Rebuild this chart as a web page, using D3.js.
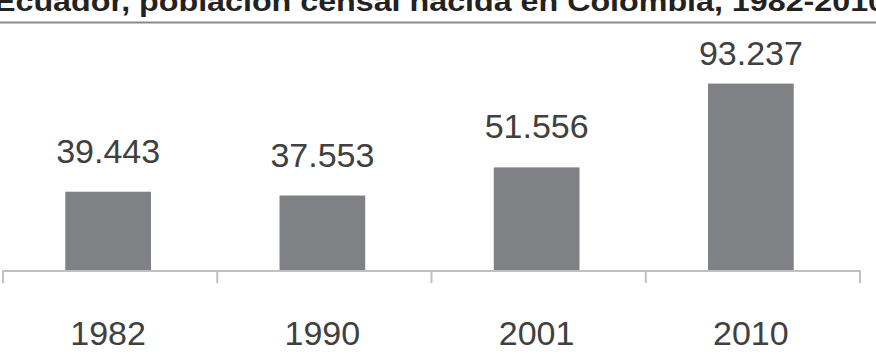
<!DOCTYPE html>
<html>
<head>
<meta charset="utf-8">
<script src="https://cdn.jsdelivr.net/npm/d3@7"></script>
<style>
  html, body { margin: 0; padding: 0; background: #fff; }
  #plot { width: 876px; height: 357px; }
</style>
</head>
<body>
<div id="plot"></div>
<script>
// Data
var years = ["1982", "1990", "2001", "2010"];
var population = [39443, 37553, 51556, 93237];
var titleText = "Ecuador, población censal nacida en Colombia, 1982-2010";

var w = 876;
var h = 357;
var baseline = 271;

var svg = d3.select("#plot").append("svg")
    .attr("width", w)
    .attr("height", h);

// title (cut off at top in the original)
svg.append("text")
    .attr("x", -6)
    .attr("y", 11)
    .attr("font-family", "Liberation Sans, Arial, sans-serif")
    .attr("font-weight", "bold")
    .attr("font-size", 28)
    .attr("fill", "#222")
    .attr("textLength", 892)
    .attr("lengthAdjust", "spacingAndGlyphs")
    .text(titleText);

svg.append("line")
    .attr("x1", 0).attr("x2", w)
    .attr("y1", 22.5).attr("y2", 22.5)
    .attr("stroke", "#8a8a8a")
    .attr("stroke-width", 2);

// Scales
var xScale = d3.scaleBand()
    .domain(years)
    .range([1, 858])
    .paddingInner(0.6)
    .paddingOuter(0.3);

var yScale = d3.scaleLinear()
    .domain([0, 100000])
    .range([baseline, 70]);

var data = years.map(function(y, i) { return {year: y, value: population[i]}; });

// bars
svg.selectAll(".bar")
    .data(data)
    .enter().append("rect")
    .attr("class", "bar")
    .attr("x", function(d) { return xScale(d.year); })
    .attr("y", function(d) { return yScale(d.value); })
    .attr("width", xScale.bandwidth())
    .attr("height", function(d) { return baseline - yScale(d.value); })
    .attr("fill", "#808184");

// axis line with ticks between categories
svg.append("line")
    .attr("x1", 2).attr("x2", 861)
    .attr("y1", baseline).attr("y2", baseline)
    .attr("stroke", "#c0c0c0")
    .attr("stroke-width", 2);

var step = xScale.step();
var tickPos = d3.range(years.length + 1).map(function(i) { return 3 + i * step; });
svg.selectAll(".tick-mark")
    .data(tickPos)
    .enter().append("line")
    .attr("class", "tick-mark")
    .attr("x1", function(d) { return d; })
    .attr("x2", function(d) { return d; })
    .attr("y1", baseline)
    .attr("y2", baseline + 12)
    .attr("stroke", "#c0c0c0")
    .attr("stroke-width", 2);

// value labels (Excel-like clamp near the top)
svg.selectAll(".val")
    .data(data)
    .enter().append("text")
    .attr("class", "val")
    .attr("x", function(d) { return xScale(d.year) + xScale.bandwidth() / 2; })
    .attr("y", function(d) { return Math.max(yScale(d.value) - 29, 65); })
    .attr("text-anchor", "middle")
    .attr("font-family", "Liberation Sans, Arial, sans-serif")
    .attr("font-size", 34)
    .attr("fill", "#404040")
    .text(function(d) { return d3.format(",")(d.value).replace(/,/g, "."); });

// category labels
svg.selectAll(".cat")
    .data(years)
    .enter().append("text")
    .attr("class", "cat")
    .attr("x", function(d) { return xScale(d) + xScale.bandwidth() / 2; })
    .attr("y", 345)
    .attr("text-anchor", "middle")
    .attr("font-family", "Liberation Sans, Arial, sans-serif")
    .attr("font-size", 34)
    .attr("fill", "#404040")
    .text(function(d) { return d; });
</script>
</body>
</html>
